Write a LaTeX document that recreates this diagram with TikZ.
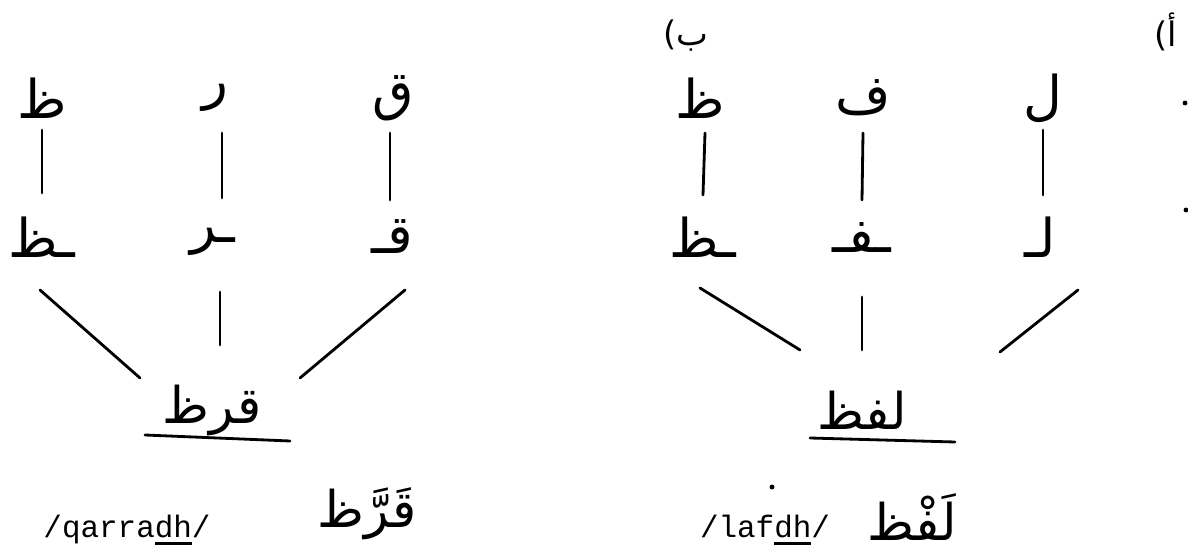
\documentclass[tikz,border=0pt]{standalone}
\usepackage{fontspec}
\TeXXeTstate=1
\newfontfamily\arabicfont[Script=Arabic]{DejaVu Sans}
\newfontfamily\parenfont{DejaVu Sans}
\setmonofont{Liberation Mono}
\usetikzlibrary{calc}
\newcommand\ulthick[1]{\setbox0\hbox{#1}\rlap{\rule[-5pt]{\wd0}{1.8pt}}#1}
\begin{document}
\begin{tikzpicture}[x=0.025cm,y=-0.025cm,
  ar/.style={font=\arabicfont\fontsize{38}{44}\selectfont, inner sep=0pt},
  arw/.style={font=\arabicfont\fontsize{36}{42}\selectfont, inner sep=0pt},
  arv/.style={font=\arabicfont\fontsize{36}{42}\selectfont, inner sep=0pt},
  lab/.style={font=\arabicfont\fontsize{24}{28}\selectfont, inner sep=0pt},
  tr/.style={font=\ttfamily\fontsize{22}{26}\selectfont, inner sep=0pt},
  ln/.style={line width=2pt, line cap=round},
  speck/.style={circle, fill=black, inner sep=0pt, minimum size=3.5pt}]
\useasboundingbox (0,0) rectangle (1188,557);
% labels
\node[lab] (labA) at (1166,32) {{\parenfont\fontsize{24}{28}\selectfont(}أ};
\node[lab] (labB) at (686,36) {{\parenfont\fontsize{24}{28}\selectfont(}ب};
% tree A (right)
\node[ar] (a1) at (1043,98) {\beginR ل\endR};
\node[ar] (a2) at (863,98) {\beginR ف\endR};
\node[ar] (a3) at (700,98) {\beginR ظ\endR};
\node[ar] (am1) at (1040,237) {\beginR لـ\endR};
\node[ar] (am2) at (862,237) {\beginR ـفـ\endR};
\node[ar] (am3) at (703,237) {\beginR ـظ\endR};
\node[arw] (aw) at (862,410) {\beginR لفظ\endR};
\node[tr] (atr) at (765,530) {/laf\ulthick{dh}/};
\node[arv] (avoc) at (912,517) {\beginR لَفْظ\endR};
% tree B (left)
\node[ar] (b1) at (393,98) {\beginR ق\endR};
\node[ar] (b2) at (215,98) {\beginR ر\endR};
\node[ar] (b3) at (42,98) {\beginR ظ\endR};
\node[ar] (bm1) at (392,237) {\beginR قـ\endR};
\node[ar] (bm2) at (213,242) {\beginR ـر\endR};
\node[ar] (bm3) at (42,237) {\beginR ـظ\endR};
\node[arw] (bw) at (212,410) {\beginR قرظ\endR};
\node[tr] (btr) at (127,530) {/qarra\ulthick{dh}/};
\node[arv] (bvoc) at (367,514) {\beginR قَرَّظ\endR};
% specks
\node[speck] (s1) at (772,487) {};
\node[speck] (s2) at (1185,103) {};
\node[speck] (s3) at (1186,210) {};
% connectors tree A
\draw[ln] ($(a1)+(0,32)$) -- ($(am1)+(3,-42)$);
\draw[ln] ($(a2)+(0,35)$) -- ($(am2)+(0,-37)$);
\draw[ln] ($(a3)+(5,35)$) -- ($(am3)+(0,-42)$);
\draw[ln] ($(am1)+(38,53)$) -- ($(aw)+(138,-58)$);
\draw[ln] ($(am2)+(0,60)$) -- ($(aw)+(0,-60)$);
\draw[ln] ($(am3)+(-3,51)$) -- ($(aw)+(-62,-60)$);
\draw[ln] ($(aw)+(-52,28)$) -- ($(aw)+(93,32)$);
% connectors tree B
\draw[ln] ($(b1)+(-3,35)$) -- ($(bm1)+(-2,-37)$);
\draw[ln] ($(b2)+(7,35)$) -- ($(bm2)+(9,-44)$);
\draw[ln] ($(b3)+(0,32)$) -- ($(bm3)+(0,-44)$);
\draw[ln] ($(bm1)+(13,53)$) -- ($(bw)+(88,-32)$);
\draw[ln] ($(bm2)+(7,50)$) -- ($(bw)+(8,-65)$);
\draw[ln] ($(bm3)+(-2,53)$) -- ($(bw)+(-72,-32)$);
\draw[ln] ($(bw)+(-67,25)$) -- ($(bw)+(78,31)$);
\end{tikzpicture}
\end{document}
